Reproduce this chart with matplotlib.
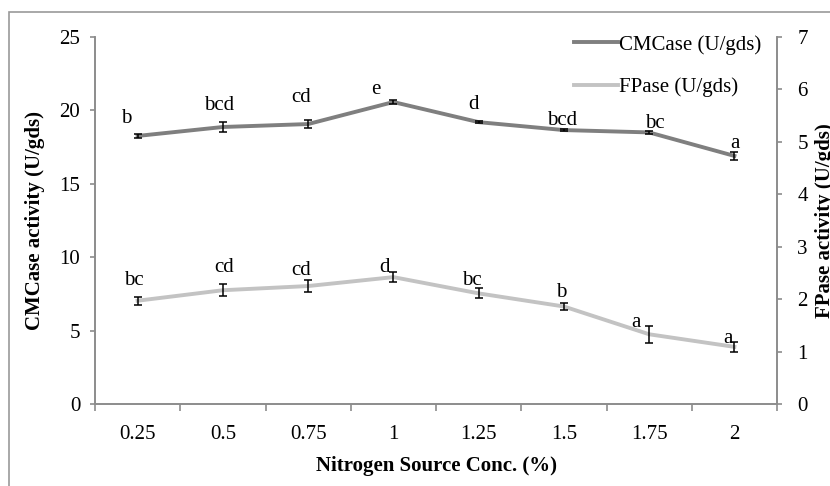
import numpy as np
import matplotlib.pyplot as plt
from matplotlib.patches import Rectangle

plt.rcParams['font.family'] = ['Liberation Serif', 'DejaVu Serif']

conc = ["0.25", "0.5", "0.75", "1", "1.25", "1.5", "1.75", "2"]
cmc = [18.26, 18.87, 19.07, 20.57, 19.2, 18.66, 18.5, 16.9]
cmc_err = [0.15, 0.35, 0.25, 0.15, 0.07, 0.07, 0.1, 0.25]
cmc_lab = ["b", "bcd", "cd", "e", "d", "bcd", "bc", "a"]
fp = [1.97, 2.17, 2.25, 2.42, 2.11, 1.86, 1.33, 1.09]
fp_err = [0.08, 0.11, 0.11, 0.09, 0.095, 0.065, 0.165, 0.1]
fp_lab = ["bc", "cd", "cd", "d", "bc", "b", "a", "a"]

# label offsets in pixels (dx, dy of baseline above point)
cmc_off = [(-11, 13), (-4, 17), (-7, 22), (-18, 8), (-5, 13), (-2, 5), (6, 4), (1, 8)]
fp_off = [(-4, 16), (1, 18), (-7, 11), (-9, 5), (-7, 8), (-3, 9), (-13, 7), (-6, 4)]

W, H = 830, 486
fig = plt.figure(figsize=(W / 100, H / 100), dpi=100)
ax = fig.add_axes([95 / W, 1 - 404 / H, (777 - 95) / W, (404 - 37) / H])
ax2 = ax.twinx()

gray = "#8c8c8c"
fs = 15
x = np.arange(len(conc))

l1, = ax.plot(x, cmc, color="#7f7f7f", lw=2.8, zorder=2, label="CMCase (U/gds)")
ax.errorbar(x, cmc, yerr=cmc_err, fmt="none", ecolor="black", elinewidth=1.1,
            capsize=3, capthick=1.1, zorder=3)
l2, = ax2.plot(x, fp, color="#c3c3c3", lw=2.8, zorder=2, label="FPase (U/gds)")
ax2.errorbar(x, fp, yerr=fp_err, fmt="none", ecolor="black", elinewidth=1.1,
             capsize=3, capthick=1.1, zorder=3)

for i in range(len(conc)):
    ax.annotate(cmc_lab[i], (x[i], cmc[i]), xytext=cmc_off[i],
                textcoords="offset pixels", ha="center", va="baseline", fontsize=fs)
    ax2.annotate(fp_lab[i], (x[i], fp[i]), xytext=fp_off[i],
                 textcoords="offset pixels", ha="center", va="baseline", fontsize=fs)

ax.set_xlim(-0.5, len(conc) - 0.5)
ax.set_ylim(0, 25)
ax2.set_ylim(0, 7)
ax.set_yticks([0, 5, 10, 15, 20, 25])
ax2.set_yticks(range(8))
ax.set_xticks(x)
ax.set_xticklabels(conc)
ax.set_xticks(np.arange(len(conc) + 1) - 0.5, minor=True)
ax.tick_params(axis="x", which="major", length=0, labelsize=fs, pad=15)
ax.tick_params(axis="x", which="minor", length=5, color=gray, width=1.2)
ax.tick_params(axis="y", length=3.6, color=gray, width=1.2, labelsize=fs, pad=7)
ax2.tick_params(axis="y", length=3.6, color=gray, width=1.2, labelsize=fs, pad=11)

for a in (ax, ax2):
    for s in a.spines.values():
        s.set_color(gray)
        s.set_linewidth(1.2)
    a.spines["top"].set_visible(False)

ax.set_xlabel("Nitrogen Source Conc. (%)", fontsize=fs, fontweight="bold", labelpad=9)
ax.set_ylabel("CMCase activity (U/gds)", fontsize=fs, fontweight="bold")
ax2.set_ylabel("FPase activity (U/gds)", fontsize=fs, fontweight="bold")
ax.yaxis.set_label_coords((45 - 95) / 682, 0.5)
ax2.yaxis.set_label_coords((815 - 95) / 682, 0.5)

ax2.legend([l1, l2], [l1.get_label(), l2.get_label()], loc="upper right",
           bbox_to_anchor=(761 / W, 1 - 35 / H), bbox_transform=fig.transFigure,
           frameon=False, fontsize=fs, borderpad=0, borderaxespad=0,
           handlelength=2.1, handletextpad=0.05, labelspacing=1.1)

fig.patches.append(Rectangle((9 / W, -0.1), 1.2, 1 - 12 / H + 0.1,
                             transform=fig.transFigure, fill=False,
                             edgecolor="#999999", lw=1.2))

fig.savefig("out.png", dpi=100)
